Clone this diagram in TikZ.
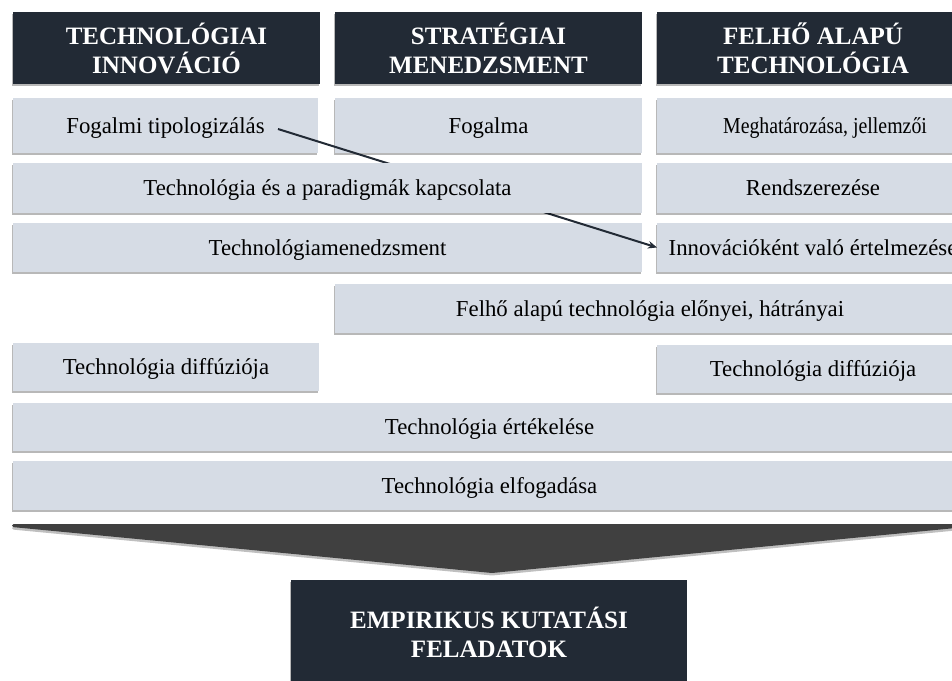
\documentclass[tikz,border=0pt]{standalone}
\usepackage{fontspec}
\usepackage{graphicx}
\setmainfont{Liberation Serif}
\usetikzlibrary{shadows,arrows.meta}

\definecolor{cellfill}{HTML}{D6DCE5}
\definecolor{headfill}{HTML}{222A35}
\definecolor{chevfill}{HTML}{404040}

\tikzset{
  softshadow/.style={drop shadow={shadow xshift=-0.8pt, shadow yshift=-2.2pt, fill=black, opacity=0.28}},
  cell/.style={rectangle, fill=cellfill, inner sep=0pt, outer sep=0pt, align=center,
    text height=17pt, text depth=2pt,
    font=\fontsize{22.8}{27}\selectfont, softshadow},
  head/.style={rectangle, fill=headfill, text=white, inner sep=0pt, outer sep=0pt, align=center,
    font=\fontsize{25}{29}\selectfont\bfseries, softshadow},
  link/.style={draw=headfill, line width=2pt, -{Stealth[length=9pt,width=7.5pt]}},
}

\begin{document}
\begin{tikzpicture}[x=1pt,y=-1pt]
\useasboundingbox (0,0) rectangle (952,680);
\fill[white] (0,0) rectangle (952,680);
\clip (0,0) rectangle (952,680);

% column headers
\node[head, minimum width=307pt, minimum height=72pt] (hTI) at (166.5,48) {TECHNOLÓGIAI\\INNOVÁCIÓ};
\node[head, minimum width=307pt, minimum height=72pt] (hSM) at (488.5,48) {STRATÉGIAI\\MENEDZSMENT};
\node[head, minimum width=312pt, minimum height=72pt] (hFA) at (813,48) {FELHŐ ALAPÚ\\TECHNOLÓGIA};

% first row
\node[cell, minimum width=305pt, minimum height=55pt] (fogalmi) at (165.5,125.5) {Fogalmi tipologizálás};
\node[cell, minimum width=307pt, minimum height=55pt] (fogalma) at (488.5,125.5) {Fogalma};
\node[cell, minimum width=336pt, minimum height=55pt] (megh) at (825,125.5) {\scalebox{0.87}[1]{Meghatározása, jellemzői}};

% third row
\node[cell, minimum width=629pt, minimum height=49pt] (techmen) at (327.5,247.5) {Technológiamenedzsment};
\node[cell, minimum width=312pt, minimum height=49pt] (innov) at (813,247.5) {Innovációként való értelmezése};

% lower rows
\node[cell, minimum width=630pt, minimum height=49pt] (felho) at (650,308.5) {Felhő alapú technológia előnyei, hátrányai};
\node[cell, minimum width=306pt, minimum height=48pt] (diffA) at (166,367) {Technológia diffúziója};
\node[cell, minimum width=312pt, minimum height=48pt] (diffB) at (813,369) {Technológia diffúziója};
\node[cell, minimum width=953pt, minimum height=48pt] (ertek) at (489.5,427) {Technológia értékelése};
\node[cell, minimum width=953pt, minimum height=49pt] (elfog) at (489.5,485.5) {Technológia elfogadása};

% connector, passing underneath the second row
\coordinate (linkstart) at (278,129);
\draw[link] (linkstart) -- (innov.west);

% second row
\node[cell, minimum width=629pt, minimum height=50pt] (paradigm) at (327.5,188) {Technológia és a paradigmák kapcsolata};
\node[cell, minimum width=312pt, minimum height=50pt] (rendsz) at (813,188) {Rendszerezése};

% chevron funnelling into the result box
\fill[chevfill, rounded corners=1.5pt, drop shadow={shadow xshift=0pt, shadow yshift=-2.5pt, fill=black, opacity=0.25}]
  (12,524) -- (966,524) -- (966,527) -- (492,573) -- (12,527) -- cycle;

% result box
\node[head, minimum width=396pt, minimum height=104pt] (empir) at (489,632) {EMPIRIKUS KUTATÁSI\\FELADATOK};
\end{tikzpicture}
\end{document}
